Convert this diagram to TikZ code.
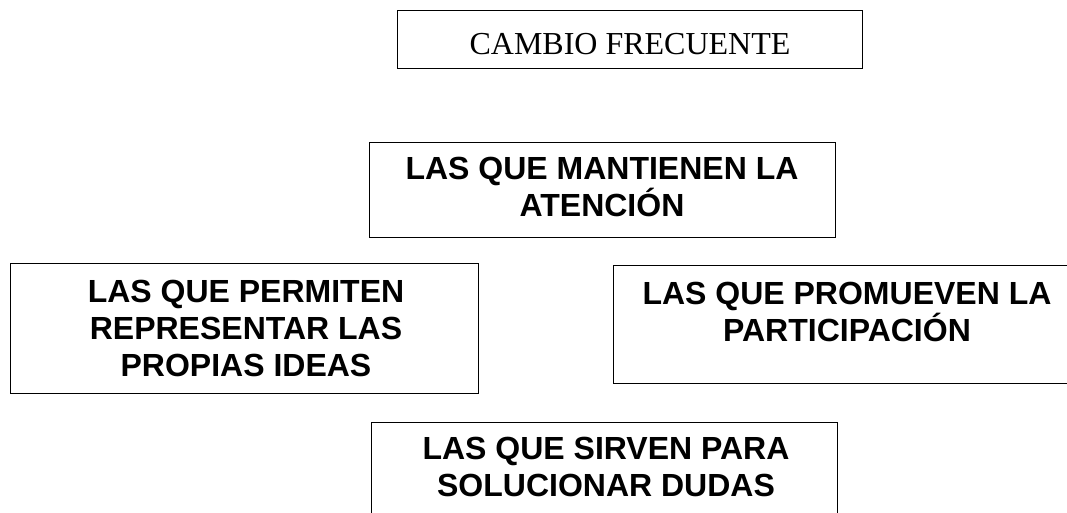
\documentclass[tikz,border=0pt]{standalone}
\usepackage{fontspec}
\setmainfont{Liberation Serif}
\newfontfamily\arialf{Liberation Sans}
\begin{document}
\begin{tikzpicture}[x=1pt,y=-1pt,
  box/.style={draw=black, line width=1.3pt, rectangle, inner sep=0pt, anchor=north west},
  boldtxt/.style={font=\arialf\bfseries\fontsize{32}{37}\selectfont, align=center, inner sep=0pt, anchor=north},
  serif/.style={font=\fontsize{32}{38}\selectfont, inner sep=0pt, anchor=base}]
\useasboundingbox (0,0) rectangle (1067,513);
\clip (0,0) rectangle (1067,513);
\node[box, minimum width=465pt, minimum height=58pt] (b1) at (397,10) {};
\node[box, minimum width=466pt, minimum height=95pt] (b2) at (369,142) {};
\node[box, minimum width=468pt, minimum height=130pt] (b3) at (10,263) {};
\node[box, minimum width=470pt, minimum height=118pt] (b4) at (613,265) {};
\node[box, minimum width=466pt, minimum height=110pt] (b5) at (371,422) {};
\node[serif] (t1) at (630,55) {CAMBIO FRECUENTE};
\node[boldtxt] (t2) at (602,157) {LAS QUE MANTIENEN LA\\ATENCIÓN};
\node[boldtxt] (t3) at (246,280) {LAS QUE PERMITEN\\REPRESENTAR LAS\\PROPIAS IDEAS};
\node[boldtxt] (t4) at (847,282) {LAS QUE PROMUEVEN LA\\PARTICIPACIÓN};
\node[boldtxt] (t5) at (606,437) {LAS QUE SIRVEN PARA\\SOLUCIONAR DUDAS};
\end{tikzpicture}
\end{document}
